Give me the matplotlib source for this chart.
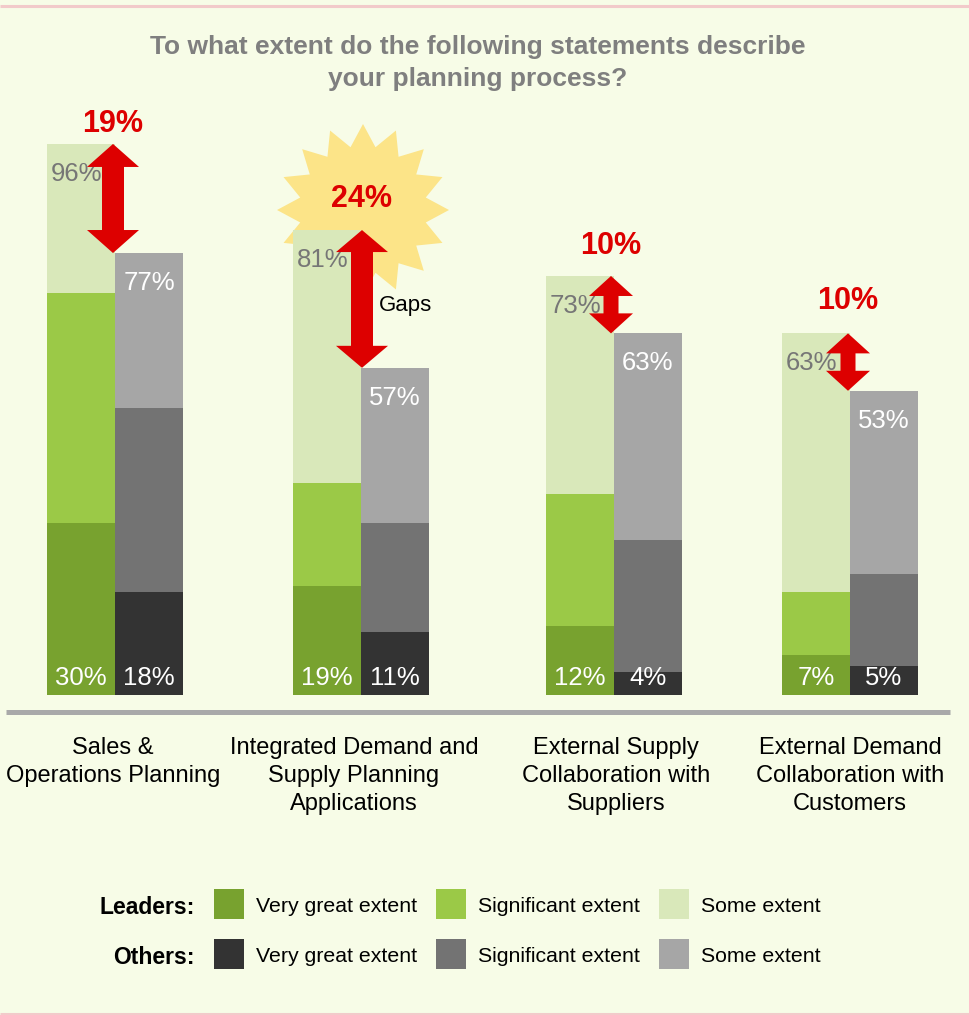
import matplotlib
matplotlib.use("Agg")
import matplotlib.pyplot as plt
from matplotlib.patches import Polygon, Rectangle
import numpy as np

# ---- data -------------------------------------------------------------
categories = [
    "Sales &\nOperations Planning",
    "Integrated Demand and\nSupply Planning\nApplications",
    "External Supply\nCollaboration with\nSuppliers",
    "External Demand\nCollaboration with\nCustomers",
]
extent_levels = ["Very great extent", "Significant extent", "Some extent"]

leaders_very_great = [30, 19, 12, 7]
leaders_significant = [40, 18, 23, 11]
leaders_some = [26, 44, 38, 45]

others_very_great = [18, 11, 4, 5]
others_significant = [32, 19, 23, 16]
others_some = [27, 27, 36, 32]

title = "To what extent do the following statements describe\nyour planning process?"

# ---- styles -----------------------------------------------------------
plt.rcParams["font.family"] = ["Liberation Sans", "DejaVu Sans"]

BG = "#F7FCE7"
LEADER_COLORS = ["#78A22F", "#9BC947", "#D9E8BA"]
OTHER_COLORS = ["#333333", "#737373", "#A6A6A6"]
RED = "#DD0000"
STAR = "#FCE488"

W, H = 969, 1015
BASE_PX = 695          # pixel row of the bar baseline
PX_PER_PCT = 5.74      # vertical pixels per percentage point

fig = plt.figure(figsize=(W / 100, H / 100), dpi=100, facecolor=BG)

# background / decoration layer in pixel coordinates
deco = fig.add_axes([0, 0, 1, 1], zorder=0)
deco.set_xlim(0, W)
deco.set_ylim(H, 0)
deco.axis("off")
deco.set_facecolor(BG)

# bar layer: x in pixel-like units, y in percent
ax = fig.add_axes([0, (H - BASE_PX) / H, 1, 100 * PX_PER_PCT / H], zorder=1)
ax.set_xlim(0, W)
ax.set_ylim(0, 100)
ax.axis("off")
ax.patch.set_alpha(0)

bar_w = 68
leader_left = np.array([47, 293, 546, 782])
other_left = leader_left + bar_w

# pink rules at top and bottom of the panel
deco.plot([0, W], [5.5, 5.5], color="#F2CACA", lw=2.2, solid_capstyle="butt")
deco.plot([0, W], [1013.5, 1013.5], color="#F2CACA", lw=2.2, solid_capstyle="butt")

# title
deco.text(478, 63, title, ha="center", va="center", fontsize=19,
          fontweight="bold", color="#7F7F7F", linespacing=1.38)

# starburst behind the largest gap
n_pts = 16
ang = np.pi / 2 + np.arange(2 * n_pts) * np.pi / n_pts
rad = np.where(np.arange(2 * n_pts) % 2 == 0, 86, 64)
star_xy = np.column_stack([363 + rad * np.cos(ang), 210 - rad * np.sin(ang)])
deco.add_patch(Polygon(star_xy, closed=True, facecolor=STAR, edgecolor="none"))

# stacked bars
leaders = [leaders_very_great, leaders_significant, leaders_some]
others = [others_very_great, others_significant, others_some]
bottom_l = np.zeros(4)
bottom_o = np.zeros(4)
for i in range(3):
    ax.bar(leader_left, leaders[i], width=bar_w, bottom=bottom_l, align="edge",
           color=LEADER_COLORS[i], linewidth=0)
    ax.bar(other_left, others[i], width=bar_w, bottom=bottom_o, align="edge",
           color=OTHER_COLORS[i], linewidth=0)
    bottom_l += np.array(leaders[i])
    bottom_o += np.array(others[i])

total_l = bottom_l
total_o = bottom_o

for k in range(4):
    # totals inside the top of each bar
    ax.annotate(f"{int(total_l[k])}%", xy=(leader_left[k] + 4, total_l[k]),
                xytext=(0, -30), textcoords="offset pixels", ha="left",
                va="center", fontsize=18.5, color="#767676")
    ax.annotate(f"{int(total_o[k])}%", xy=(other_left[k] + bar_w / 2, total_o[k]),
                xytext=(0, -30), textcoords="offset pixels", ha="center",
                va="center", fontsize=18.5, color="white")
    # "very great extent" shares at the bottom
    ax.annotate(f"{leaders_very_great[k]}%", xy=(leader_left[k] + bar_w / 2, 0),
                xytext=(0, 17), textcoords="offset pixels", ha="center",
                va="center", fontsize=18.5, color="white")
    ax.annotate(f"{others_very_great[k]}%", xy=(other_left[k] + bar_w / 2, 0),
                xytext=(0, 17), textcoords="offset pixels", ha="center",
                va="center", fontsize=18.5, color="white")

# double-headed gap arrows
arrow_shift = [-2, 1, -3, -2]
arrow_dims = [(23, 26, 11), (22, 26, 11), (20, 22, 7.5), (20, 22, 7.5)]
label_lift = [20, 31, 30, 32]
for k in range(4):
    xc = other_left[k] + arrow_shift[k]
    yt, yb = total_l[k], total_o[k]
    hl_px, hw, sw = arrow_dims[k]
    hl = hl_px / PX_PER_PCT
    pts = [
        (xc, yt), (xc + hw, yt - hl), (xc + sw, yt - hl), (xc + sw, yb + hl),
        (xc + hw, yb + hl), (xc, yb), (xc - hw, yb + hl), (xc - sw, yb + hl),
        (xc - sw, yt - hl), (xc - hw, yt - hl),
    ]
    ax.add_patch(Polygon(pts, closed=True, facecolor=RED, edgecolor="none", zorder=3))
    gap = int(total_l[k] - total_o[k])
    ax.annotate(f"{gap}%", xy=(xc, yt), xytext=(0, label_lift[k]),
                textcoords="offset pixels", ha="center", va="center",
                fontsize=22, fontweight="bold", color=RED, zorder=4)

deco.text(379, 305, "Gaps", ha="left", va="center", fontsize=16, color="black")

# baseline rule
deco.plot([6, 950], [711.5, 711.5], color="#A9A9A9", lw=3.6, solid_capstyle="butt")

# category labels
cat_x = [113, 354, 616, 850]
for k, lab in enumerate(categories):
    deco.text(cat_x[k], 737, lab, ha="center", va="top", fontsize=17,
              color="black", linespacing=1.36)

# legend
rows = [("Leaders:", LEADER_COLORS, 904), ("Others:", OTHER_COLORS, 954)]
sw_x = [214, 436, 659]
for name, cols, yc in rows:
    deco.text(195, yc + 3, name, ha="right", va="center", fontsize=16.5,
              fontweight="bold", color="black")
    for j in range(3):
        deco.add_patch(Rectangle((sw_x[j], yc - 15), 30, 30, facecolor=cols[j],
                                 edgecolor="none"))
        deco.text(sw_x[j] + 42, yc + 3, extent_levels[j], ha="left", va="center",
                  fontsize=15.3, color="black")

fig.savefig("out.png", dpi=100, facecolor=BG)
